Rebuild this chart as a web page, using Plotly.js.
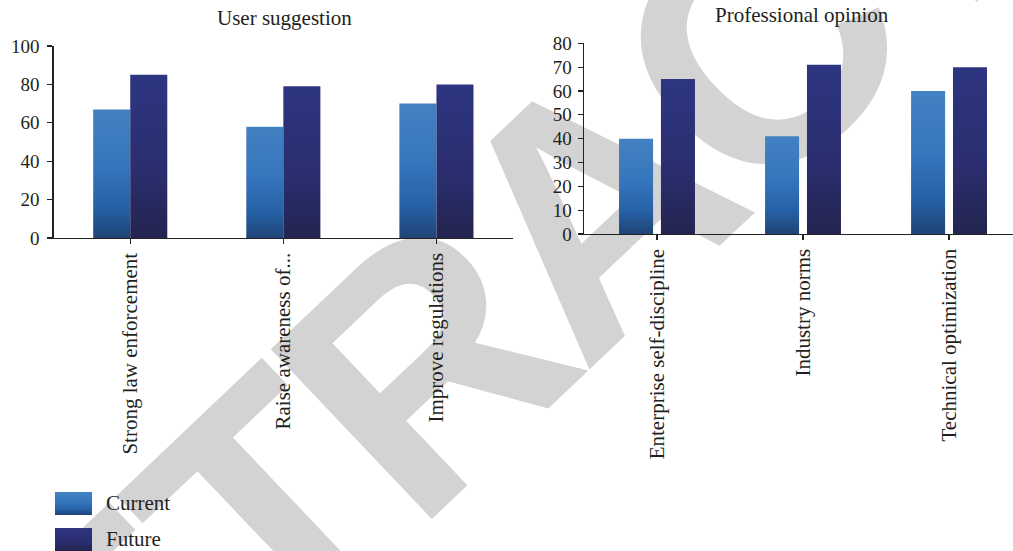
<!DOCTYPE html>
<html>
<head>
<meta charset="utf-8">
<script src="https://cdn.plot.ly/plotly-3.0.1.min.js"></script>
<style>
html,body{margin:0;padding:0;background:#fff;width:1013px;height:551px;overflow:hidden;}
#wm{position:absolute;left:586px;top:210px;transform:translate(-50%,-50%) rotate(-43.5deg);
font-family:"Liberation Sans",Arial,sans-serif;font-weight:bold;font-size:340px;line-height:1;letter-spacing:-14px;
color:#d3d3d3;white-space:nowrap;z-index:0;}
#plot{position:absolute;left:0;top:0;width:1013px;height:551px;z-index:1;}
</style>
</head>
<body>
<div id="wm">RETRACTED</div>
<div id="plot"></div>
<script>
// ---- data ----
const userCategories = ["Strong law enforcement", "Raise awareness of...", "Improve regulations"];
const userCurrent = [67, 58, 70];
const userFuture = [85, 79, 80];
const proCategories = ["Enterprise self-discipline", "Industry norms", "Technical optimization"];
const proCurrent = [40, 41, 60];
const proFuture = [65, 71, 70];
const seriesNames = ["Current", "Future"];
const panelTitles = ["User suggestion", "Professional opinion"];
const userTicks = [0, 20, 40, 60, 80, 100];
const proTicks = [0, 10, 20, 30, 40, 50, 60, 70, 80];

const C_CUR = "rgb(64, 128, 192)";
const C_FUT = "rgb(46, 52, 127)";
const SERIF = "Liberation Serif, Times New Roman, serif";
const TXT = "#231f20";

const traces = [
  {type:"bar", x:userCategories, y:userCurrent, name:seriesNames[0], xaxis:"x", yaxis:"y",
   width:0.242, offset:-0.242, marker:{color:C_CUR}, hoverinfo:"skip"},
  {type:"bar", x:userCategories, y:userFuture, name:seriesNames[1], xaxis:"x", yaxis:"y",
   width:0.242, offset:0, marker:{color:C_FUT}, hoverinfo:"skip"},
  {type:"bar", x:proCategories, y:proCurrent, name:seriesNames[0], xaxis:"x2", yaxis:"y2",
   width:0.233, offset:-0.26, marker:{color:C_CUR}, hoverinfo:"skip"},
  {type:"bar", x:proCategories, y:proFuture, name:seriesNames[1], xaxis:"x2", yaxis:"y2",
   width:0.233, offset:0.027, marker:{color:C_FUT}, hoverinfo:"skip"}
];

const axisCommon = {
  showgrid:false, zeroline:false, showline:true, linecolor:"#222", linewidth:1.4,
  ticks:"outside", ticklen:5, tickwidth:1.2, tickcolor:"#222", fixedrange:true
};

const layout = {
  width:1013, height:551,
  margin:{l:0,r:0,t:0,b:0},
  paper_bgcolor:"rgba(0,0,0,0)", plot_bgcolor:"rgba(0,0,0,0)",
  showlegend:false,
  barmode:"group",
  font:{family:SERIF, color:TXT},
  xaxis:Object.assign({}, axisCommon, {domain:[0.0530,0.5064], anchor:"y", type:"category",
    range:[-0.5,2.5], tickangle:-90, tickfont:{family:SERIF,size:21,color:TXT}}),
  yaxis:Object.assign({}, axisCommon, {domain:[0.568,0.9165], anchor:"x", range:[0,100],
    tickvals:userTicks, ticktext:userTicks.map(String), tickfont:{family:SERIF,size:19,color:TXT}, ticklabelstandoff:4}),
  xaxis2:Object.assign({}, axisCommon, {domain:[0.5765,1.0], anchor:"y2", type:"category",
    range:[-0.5,2.438], tickangle:-90, tickfont:{family:SERIF,size:21,color:TXT}}),
  yaxis2:Object.assign({}, axisCommon, {domain:[0.5753,0.9214], anchor:"x2", range:[0,80],
    tickvals:proTicks, ticktext:proTicks.map(String), tickfont:{family:SERIF,size:19,color:TXT}, ticklabelstandoff:2}),
  annotations:[
    {text:panelTitles[0], xref:"paper", yref:"paper", x:0.2813, y:0.967, xanchor:"center", yanchor:"middle",
     showarrow:false, font:{family:SERIF,size:21,color:TXT}},
    {text:panelTitles[1], xref:"paper", yref:"paper", x:0.7917, y:0.973, xanchor:"center", yanchor:"middle",
     showarrow:false, font:{family:SERIF,size:21,color:TXT}},
    {text:seriesNames[0], xref:"paper", yref:"paper", x:104/1013, y:1-503/551, xanchor:"left", yanchor:"middle",
     showarrow:false, font:{family:SERIF,size:21,color:TXT}},
    {text:seriesNames[1], xref:"paper", yref:"paper", x:104/1013, y:1-539/551, xanchor:"left", yanchor:"middle",
     showarrow:false, font:{family:SERIF,size:21,color:TXT}}
  ],
  shapes:[
    {type:"rect", xref:"paper", yref:"paper", x0:55/1013, x1:92/1013, y0:1-515/551, y1:1-492/551,
     fillcolor:C_CUR, line:{width:0}},
    {type:"rect", xref:"paper", yref:"paper", x0:55/1013, x1:92/1013, y0:1-551/551, y1:1-528/551,
     fillcolor:C_FUT, line:{width:0}}
  ]
};

function addGradients(gd){
  const svg = gd.querySelector("svg.main-svg");
  const ns = "http://www.w3.org/2000/svg";
  let defs = svg.querySelector("defs");
  if(!defs){ defs = document.createElementNS(ns,"defs"); svg.insertBefore(defs, svg.firstChild); }
  function grad(id, stops){
    const g = document.createElementNS(ns,"linearGradient");
    g.setAttribute("id",id); g.setAttribute("x1","0"); g.setAttribute("y1","0");
    g.setAttribute("x2","0"); g.setAttribute("y2","1");
    stops.forEach(s=>{const st=document.createElementNS(ns,"stop");
      st.setAttribute("offset",s[0]); st.setAttribute("stop-color",s[1]); g.appendChild(st);});
    defs.appendChild(g);
  }
  grad("gCur",[["0","#4282c2"],["0.45","#3575bb"],["0.75","#2662a8"],["1","#1f4476"]]);
  grad("gFut",[["0","#2e3581"],["0.6","#2a2e6e"],["1","#23244f"]]);
  const norm = c => (c||"").replace(/\s/g,"");
  gd.querySelectorAll(".bars path, .shapelayer path").forEach(p=>{
    const f = norm(p.style.fill || p.getAttribute("fill"));
    if(f===norm(C_CUR)) p.style.fill="url(#gCur)";
    else if(f===norm(C_FUT)) p.style.fill="url(#gFut)";
  });
}

Plotly.newPlot("plot", traces, layout, {staticPlot:true, displayModeBar:false}).then(addGradients);
</script>
</body>
</html>
